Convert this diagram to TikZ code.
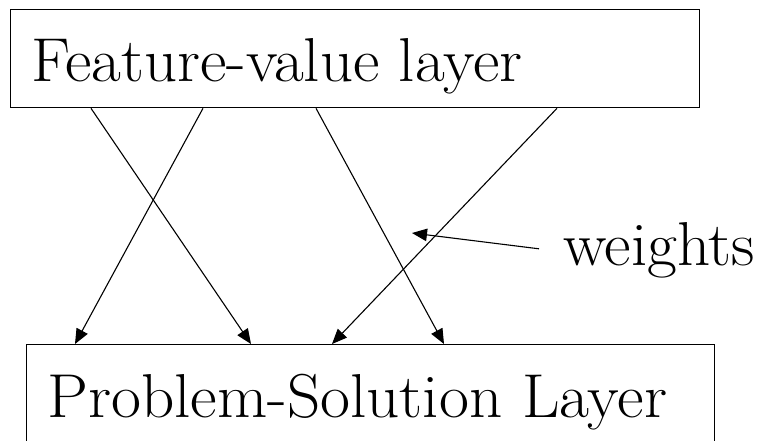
\documentclass[tikz,border=0pt]{standalone}
\usetikzlibrary{arrows.meta,calc}
% large serif labels, fitted to a given width
\newcommand{\biglabel}[2]{\resizebox{#1}{\height}{\fontsize{62}{74}\selectfont #2}}
\begin{document}
\begin{tikzpicture}[x=1pt,y=-1pt,
  layerbox/.style={draw,line width=1.3pt,inner sep=0pt,anchor=north west},
  bigtext/.style={inner sep=0pt,anchor=base west},
  link/.style={line width=1.1pt,-{Triangle[length=15pt,width=12.5pt]}}]
  % canvas
  \clip (0,0) rectangle (759,440);
  % layers
  \node[layerbox,minimum width=689pt,minimum height=98pt] (fv) at (10,9) {};
  \node[bigtext] (fvlabel) at (31,81) {\biglabel{491pt}{Feature-value layer}};
  \node[layerbox,minimum width=688pt,minimum height=120pt] (ps) at (26,344) {};
  \node[bigtext] (pslabel) at (47,417) {\biglabel{620pt}{Problem-Solution Layer}};
  % weighted links between the layers
  \draw[link] ($(fv.south west)+(81,0)$)  -- ($(ps.north west)+(225,0)$);
  \draw[link] ($(fv.south west)+(193,0)$) -- ($(ps.north west)+(49,0)$);
  \draw[link] ($(fv.south west)+(306,0)$) -- ($(ps.north west)+(418,0)$);
  \draw[link] ($(fv.south west)+(547,0)$) -- ($(ps.north west)+(306,0)$);
  % annotation
  \node[bigtext] (w) at (563,265) {\biglabel{192pt}{weights}};
  \coordinate (wtip) at (412,233);
  \draw[link] ($(w.west)+(-24,-1)$) -- (wtip);
\end{tikzpicture}
\end{document}
